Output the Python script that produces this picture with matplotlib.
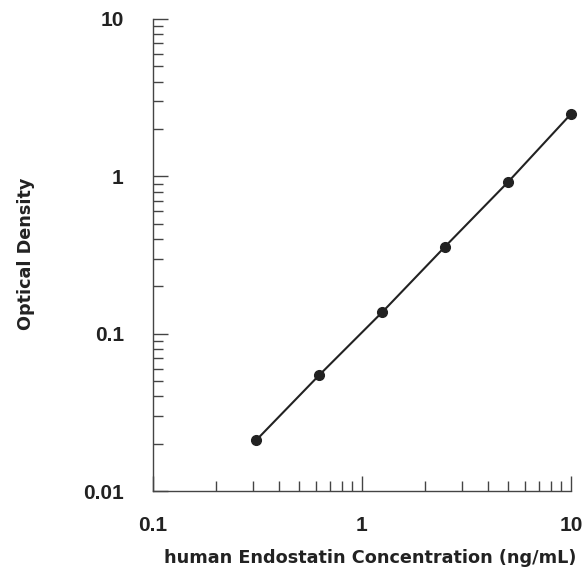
#!/usr/bin/env python3
"""Standard curve, human Endostatin ELISA (log-log)"""

import matplotlib
matplotlib.use("Agg")
import matplotlib.pyplot as plt
from matplotlib import font_manager as fm
from matplotlib.ticker import LogLocator, FixedLocator, FixedFormatter, NullFormatter

# data
conc = [0.3125, 0.625, 1.25, 2.5, 5, 10]
od = [0.0211, 0.0546, 0.137, 0.358, 0.92, 2.49]

x_ticks = [0.1, 1, 10]
x_labels = ["0.1", "1", "10"]
y_ticks = [0.01, 0.1, 1, 10]
y_labels = ["0.01", "0.1", "1", "10"]

ink = '#222222'

# Liberation Sans Bold by file, so the Narrow cut is not picked up
bold_file = [f for f in fm.findSystemFonts() if f.endswith('LiberationSans-Bold.ttf')]
if bold_file:
    tick_fp = fm.FontProperties(fname=bold_file[0], size=15)
else:
    tick_fp = fm.FontProperties(family='DejaVu Sans', weight='bold', size=13)

fig = plt.figure(figsize=(5.85, 5.67), dpi=100)
ax = fig.add_axes([0.2615, 0.134, 0.7145, 0.8325])
ax.set_xscale('log')
ax.set_yscale('log')
ax.set_xlim(0.1, 10)
ax.set_ylim(0.01, 10)

ax.plot(conc, od, '-', color=ink, lw=1.5, marker='o', ms=7, mfc=ink, mec=ink, clip_on=False)

# only left and bottom spines
for s in ['top', 'right']:
    ax.spines[s].set_visible(False)
for s in ['left', 'bottom']:
    ax.spines[s].set_color('#444444')
    ax.spines[s].set_linewidth(1.0)

ax.xaxis.set_major_locator(FixedLocator(x_ticks))
ax.xaxis.set_major_formatter(FixedFormatter(x_labels))
ax.yaxis.set_major_locator(FixedLocator(y_ticks))
ax.yaxis.set_major_formatter(FixedFormatter(y_labels))
ax.xaxis.set_minor_locator(LogLocator(base=10, subs=range(2, 10)))
ax.yaxis.set_minor_locator(LogLocator(base=10, subs=range(2, 10)))
ax.xaxis.set_minor_formatter(NullFormatter())
ax.yaxis.set_minor_formatter(NullFormatter())

ax.tick_params(which='major', direction='in', length=11, width=1.0, color='#444444',
               labelcolor=ink)
ax.tick_params(which='minor', direction='in', length=7, width=1.0, color='#444444')
ax.tick_params(axis='x', which='major', pad=18)
ax.tick_params(axis='y', which='major', pad=21)
for lab in ax.get_xticklabels() + ax.get_yticklabels():
    lab.set_fontproperties(tick_fp)

lab_font = dict(fontsize=12.7, fontweight='bold', color=ink, family=['DejaVu Sans'])
ax.set_xlabel("human Endostatin Concentration (ng/mL)", **lab_font)
ax.set_ylabel("Optical Density", **lab_font)
ax.xaxis.set_label_coords(0.519, -0.123)
ax.yaxis.set_label_coords(-0.282, 0.502)

fig.savefig("out.png", dpi=100)
